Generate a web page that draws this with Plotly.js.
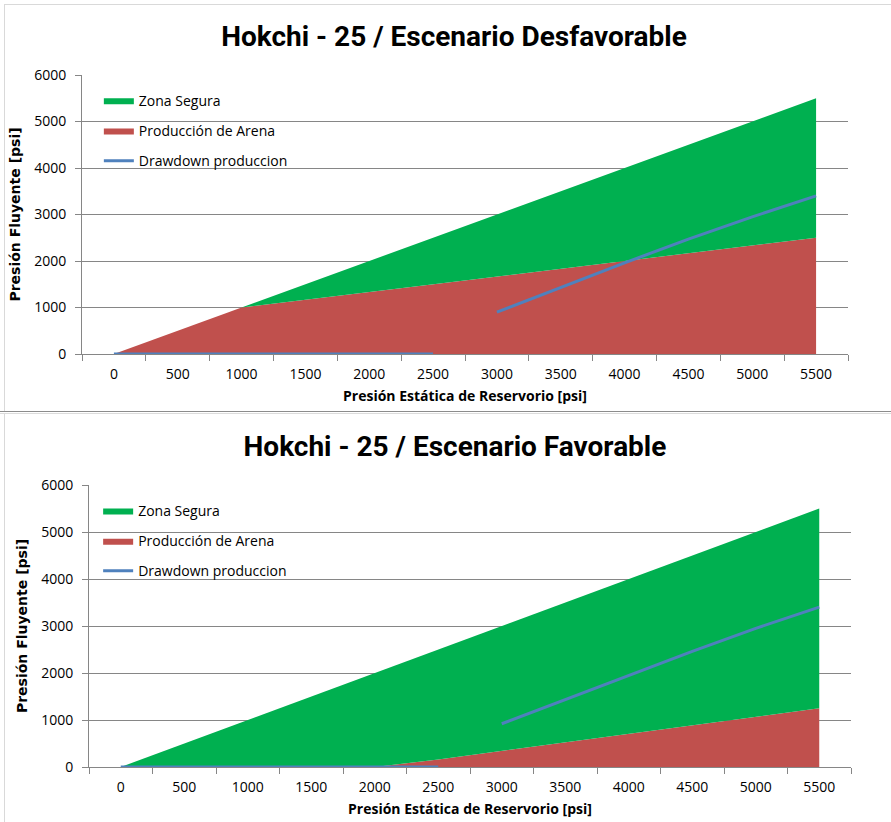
<!DOCTYPE html>
<html>
<head>
<meta charset="utf-8">
<script src="https://cdn.plot.ly/plotly-3.0.1.min.js"></script>
<style>
  html, body { margin: 0; padding: 0; background: #ffffff; }
  body { width: 891px; height: 822px; position: relative; overflow: hidden; }
  .chart { position: absolute; left: 0; width: 891px; }
  #top { top: 0; height: 411px; }
  #bottom { top: 413px; height: 409px; }
  .frame { position: absolute; border-left: 1px solid #d9d9d9; border-top: 1px solid #d9d9d9; pointer-events: none; }
  .sep { position: absolute; left: 0; width: 891px; pointer-events: none; }
</style>
</head>
<body>
<div class="frame" style="left:4px; top:4px; width:887px; height:406px;"></div>
<div class="sep" style="top:411px; height:1px; background:#8c8c8c;"></div>
<div class="sep" style="top:413px; height:1px; background:#dcdcdc;"></div>
<div class="frame" style="left:4px; top:414px; width:887px; height:408px; border-top:none;"></div>
<div id="top" class="chart"></div>
<div id="bottom" class="chart"></div>
<script>
// ---- data ----
const categorias = ['0','500','1000','1500','2000','2500','3000','3500','4000','4500','5000','5500'];

const tituloDesf = 'Hokchi - 25 / Escenario Desfavorable';
const zonaSeguraDesf = [0, 500, 1000, 1500, 2000, 2500, 3000, 3500, 4000, 4500, 5000, 5500];
const arenaDesf = [0, 500, 1000, 1167, 1333, 1500, 1667, 1833, 2000, 2167, 2333, 2500];
const drawdownDesf = [0, 0, 0, 0, 0, 0, 900, 1430, 1960, 2470, 2950, 3400];

const tituloFav = 'Hokchi - 25 / Escenario Favorable';
const zonaSeguraFav = [0, 500, 1000, 1500, 2000, 2500, 3000, 3500, 4000, 4500, 5000, 5500];
const arenaFav = [0, 0, 0, 0, 0, 160, 340, 520, 700, 880, 1065, 1250];
const drawdownFav = [0, 0, 0, 0, 0, 0, 920, 1430, 1950, 2460, 2950, 3400];

const nombres = ['Zona Segura', 'Producción de Arena', 'Drawdown produccion'];
const tituloX = 'Presión Estática de Reservorio [psi]';
const tituloY = 'Presión Fluyente [psi]';
const corte = 6; // drawdown line is drawn in two pieces

// ---- styles ----
const SANS = '"Open Sans", sans-serif';
const TITLEF = 'Roboto, "Open Sans", sans-serif';
const GREEN = '#00B050', RED = '#C0504D', BLUE = '#4F81BD', GRID = '#868686';

function build(div, titulo, zona, arena, dd, m) {
  const traces = [
    { x: categorias, y: arena, type: 'scatter', mode: 'lines', fill: 'tozeroy',
      fillcolor: RED, line: { width: 0, color: RED }, name: nombres[1],
      legendgroup: 'b', legendrank: 2, hoverinfo: 'skip' },
    { x: categorias, y: zona, type: 'scatter', mode: 'lines', fill: 'tonexty',
      fillcolor: GREEN, line: { width: 0, color: GREEN }, name: nombres[0],
      legendgroup: 'a', legendrank: 1, hoverinfo: 'skip' },
    { x: categorias.slice(0, corte), y: dd.slice(0, corte), type: 'scatter', mode: 'lines',
      line: { width: 3, color: BLUE }, name: nombres[2], legendgroup: 'c', legendrank: 3,
      showlegend: true, hoverinfo: 'skip' },
    { x: categorias.slice(corte), y: dd.slice(corte), type: 'scatter', mode: 'lines',
      line: { width: 3, color: BLUE }, name: nombres[2], legendgroup: 'c', legendrank: 3,
      showlegend: false, hoverinfo: 'skip' }
  ];
  const layout = {
    width: 891, height: m.h,
    margin: { l: m.l, r: m.r, t: m.t, b: m.b },
    paper_bgcolor: 'rgba(0,0,0,0)', plot_bgcolor: 'rgba(0,0,0,0)',
    showlegend: true,
    title: { text: '<b>' + titulo + '</b>', font: { family: TITLEF, size: 28, color: '#000' },
             x: m.tx, xref: 'container', xanchor: 'center', y: 1 - m.ty / m.h, yref: 'container', yanchor: 'middle' },
    legend: { x: m.lx, y: m.ly, xanchor: 'left', yanchor: 'top', bgcolor: 'rgba(0,0,0,0)',
              font: { family: SANS, size: 14, color: '#000' }, tracegroupgap: 9,
              itemwidth: 30, traceorder: 'grouped' },
    xaxis: { type: 'category', tickson: 'boundaries', range: [-0.5, 11.5], fixedrange: true,
             showgrid: false, showline: true, linecolor: GRID, linewidth: 1, zeroline: false,
             ticks: 'outside', ticklen: 6, tickcolor: GRID, ticklabelstandoff: 7,
             tickfont: { family: SANS, size: 14, color: '#000' },
             title: { text: '<b>' + tituloX + '</b>', font: { family: SANS, size: 14, color: '#000' }, standoff: 9 } },
    yaxis: { range: [0, 6000], dtick: 1000, tick0: 0, fixedrange: true,
             showgrid: true, gridcolor: GRID, gridwidth: 1, zeroline: false,
             showline: true, linecolor: GRID, linewidth: 1,
             ticks: 'outside', ticklen: 6, tickcolor: GRID, ticklabelstandoff: 6,
             tickfont: { family: SANS, size: 14, color: '#000' },
             title: { text: '<b>' + tituloY + '</b>', font: { family: '"DejaVu Sans", Verdana, sans-serif', size: 14, color: '#000' }, standoff: 10 } }
  };
  Plotly.newPlot(div, traces, layout, { displayModeBar: false, staticPlot: true });
}

build('top', tituloDesf, zonaSeguraDesf, arenaDesf, drawdownDesf,
      { h: 411, l: 82, r: 43, t: 75, b: 57, tx: 454 / 891, ty: 36, lx: 0.022, ly: 0.965 });
build('bottom', tituloFav, zonaSeguraFav, arenaFav, drawdownFav,
      { h: 409, l: 89, r: 40, t: 72, b: 55, tx: 455 / 891, ty: 33, lx: 0.012, ly: 0.965 });
</script>
</body>
</html>
